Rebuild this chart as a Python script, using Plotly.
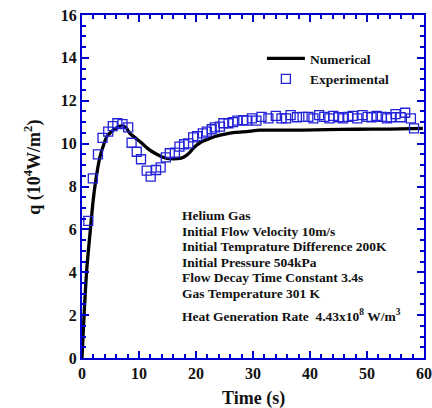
import plotly.graph_objects as go

# Experimental data (time s, heat flux 1e4 W/m2)
exp_t = [1.1, 1.9, 2.8, 3.6, 4.6, 5.4, 6.2, 7.1, 8.1, 8.7, 9.6, 10.35, 11.35, 12.05, 13.0, 13.8,
         14.7, 15.4, 16.3, 17.1, 17.9, 18.65, 19.5, 20.2, 21.2, 21.9, 22.75, 23.3, 24.2, 24.8,
         25.7, 26.5, 27.25, 28.3, 28.9, 29.8, 30.6, 31.5, 32.7, 34.0, 35.0, 35.8, 36.6, 37.7,
         38.7, 39.7, 40.6, 41.6, 42.5, 43.4, 44.1, 45.0, 45.8, 46.7, 47.5, 48.3, 49.2, 50.1,
         50.8, 51.7, 52.6, 53.5, 54.2, 55.0, 55.9, 56.7, 57.7, 58.25]
exp_q = [6.4, 8.38, 9.5, 10.27, 10.56, 10.82, 10.95, 10.91, 10.76, 10.04, 9.62, 9.27, 8.74, 8.46,
         8.77, 8.89, 9.36, 9.55, 9.58, 9.86, 9.97, 10.01, 10.29, 10.35, 10.48, 10.56, 10.67, 10.76,
         10.79, 10.95, 10.95, 11.0, 11.07, 11.1, 11.07, 11.18, 11.07, 11.25, 11.18, 11.29, 11.18,
         11.18, 11.33, 11.23, 11.25, 11.25, 11.18, 11.33, 11.25, 11.18, 11.29, 11.23, 11.18, 11.25,
         11.29, 11.18, 11.33, 11.25, 11.23, 11.29, 11.25, 11.18, 11.23, 11.38, 11.23, 11.44, 11.18,
         10.71]

# Numerical curve
num_t = [0.0, 0.4, 0.82, 1.4, 2.0, 2.6, 3.16, 3.8, 4.33, 5.0, 5.5, 6.1, 6.7, 7.25, 7.8, 8.4, 9.3,
         10.2, 11.0, 11.9, 12.8, 13.7, 14.9, 16.0, 17.2, 17.8, 18.4, 19.0, 19.5, 20.1, 20.7, 21.5,
         22.5, 23.3, 24.2, 25.3, 26.5, 27.7, 28.9, 31.2, 35.0, 38.8, 43.0, 48.0, 54.0, 59.8]
num_q = [0.0, 2.2, 4.1, 5.8, 7.45, 8.6, 9.39, 9.95, 10.32, 10.52, 10.63, 10.74, 10.82, 10.82,
         10.72, 10.48, 10.28, 10.09, 9.9, 9.7, 9.55, 9.42, 9.31, 9.29, 9.31, 9.36, 9.47, 9.62,
         9.78, 9.92, 10.04, 10.15, 10.25, 10.33, 10.4, 10.46, 10.51, 10.54, 10.56, 10.63, 10.63,
         10.63, 10.65, 10.67, 10.68, 10.71]

x_ticks = [0, 10, 20, 30, 40, 50, 60]
y_ticks = [0, 2, 4, 6, 8, 10, 12, 14, 16]

info_lines = [
    "Helium Gas",
    "Initial Flow Velocity 10m/s",
    "Initial Temprature Difference 200K",
    "Initial Pressure 504kPa",
    "Flow Decay Time Constant 3.4s",
    "Gas Temperature 301 K",
    "Heat Generation Rate  4.43x10<sup>8</sup> W/m<sup>3</sup>",
]
info_y = [6.67, 5.89, 5.19, 4.44, 3.75, 3.02, 1.96]

FONT = "Liberation Serif"
AX = "#0000cd"
TXT = "#111111"

fig = go.Figure()
fig.add_trace(go.Scatter(x=num_t, y=num_q, mode="lines", name="Numerical",
                         line=dict(color="black", width=3.3, shape="spline", smoothing=0.6)))
fig.add_trace(go.Scatter(x=exp_t, y=exp_q, mode="markers", name="Experimental",
                         marker=dict(symbol="square-open", size=9, color="#2222d8",
                                     line=dict(width=1.3))))

axis_common = dict(showline=True, linecolor=AX, linewidth=2, mirror="allticks",
                   ticks="inside", tickcolor=AX, tickwidth=2, ticklen=7,
                   showgrid=False, zeroline=False, automargin=False,
                   tickfont=dict(family=FONT, size=16, color=TXT, weight="bold"))

fig.update_xaxes(range=[0, 60], tickvals=x_ticks,
                 minor=dict(ticks="inside", dtick=2, ticklen=4, tickwidth=2, tickcolor=AX),
                 **axis_common)
fig.update_yaxes(range=[0, 16], tickvals=y_ticks,
                 minor=dict(ticks="inside", dtick=0.5, ticklen=4, tickwidth=2, tickcolor=AX),
                 **axis_common)

# x-axis title
fig.add_annotation(x=0.5, y=-0.117, xref="paper", yref="paper", text="Time (s)",
                   showarrow=False, xanchor="center", yanchor="middle",
                   font=dict(family=FONT, size=18, color=TXT, weight="bold"))
# y-axis title
fig.add_annotation(x=-0.143, y=0.555, xref="paper", yref="paper",
                   text="q (10<sup>4</sup>W/m<sup>2</sup>)", textangle=-90,
                   showarrow=False, xanchor="center", yanchor="middle",
                   font=dict(family=FONT, size=18, color=TXT, weight="bold"))

for s, yv in zip(info_lines, info_y):
    fig.add_annotation(x=17.2, y=yv, xref="x", yref="y", text=s,
                       showarrow=False, xanchor="left", yanchor="middle",
                       font=dict(family=FONT, size=13.5, color=TXT, weight="bold"))

fig.update_layout(
    width=432, height=408,
    margin=dict(l=82, r=8, t=15, b=50),
    paper_bgcolor="white", plot_bgcolor="white",
    showlegend=True,
    legend=dict(x=0.526, y=0.918, xanchor="left", yanchor="top", bgcolor="rgba(0,0,0,0)",
                itemwidth=38,
                font=dict(family=FONT, size=13.5, color=TXT, weight="bold"), tracegroupgap=0),
)

fig.write_html("out.html")
